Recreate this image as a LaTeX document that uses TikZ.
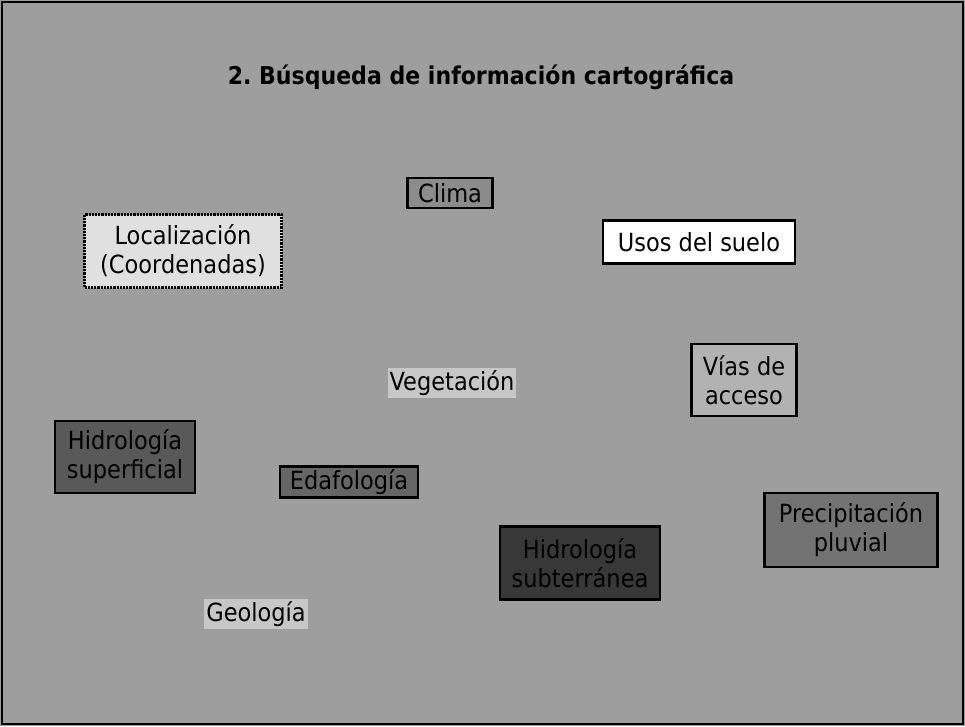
\documentclass[tikz,border=0pt]{standalone}
\usepackage{fontspec}
\setmainfont[FakeStretch=0.9]{DejaVu Sans}
\frenchspacing
\begin{document}
\begin{tikzpicture}[x=1pt,y=-1pt,
  lbl/.style={font=\fontsize{25}{29}\selectfont, align=center, inner sep=2pt, text=black},
  boxed/.style={lbl, draw=black, line width=2.2pt, inner xsep=4pt, inner ysep=2pt}]
\useasboundingbox (0,0) rectangle (965,726);
\fill[black!38] (0,0) rectangle (965,726);
\draw[line width=2.5pt] (2,2) rectangle (963,724);
\node[font=\fontsize{24.5}{28}\selectfont\bfseries, text=black, inner sep=2pt] (title) at (481,77) {2. Búsqueda de información cartográfica};
\node[boxed, fill=black!45, minimum width=85pt, minimum height=30pt] (clima) at (450,193) {Clima};
\node[boxed, fill=black!12, densely dotted, minimum width=197pt, minimum height=73pt] (loc) at (183,251) {Localización\\(Coordenadas)};
\node[boxed, fill=white, minimum width=192pt, minimum height=43pt] (usos) at (699,242) {Usos del suelo};
\node[lbl, fill=black!22] (veg) at (452,383) {Vegetación};
\node[boxed, fill=black!30, minimum width=105pt, minimum height=72pt] (vias) at (744,380) {Vías de\\acceso};
\node[boxed, fill=black!65, minimum width=140pt, minimum height=72pt] (hsup) at (125,457) {Hidrología\\superficial};
\node[boxed, fill=black!60, minimum width=138pt, minimum height=31pt] (eda) at (349,482) {Edafología};
\node[boxed, fill=black!55, minimum width=173pt, minimum height=74pt] (prec) at (851,530) {Precipitación\\pluvial};
\node[boxed, fill=black!78, minimum width=160pt, minimum height=73pt] (hsub) at (580,563) {Hidrología\\subterránea};
\node[lbl, fill=black!22] (geo) at (256,614) {Geología};
\end{tikzpicture}
\end{document}
